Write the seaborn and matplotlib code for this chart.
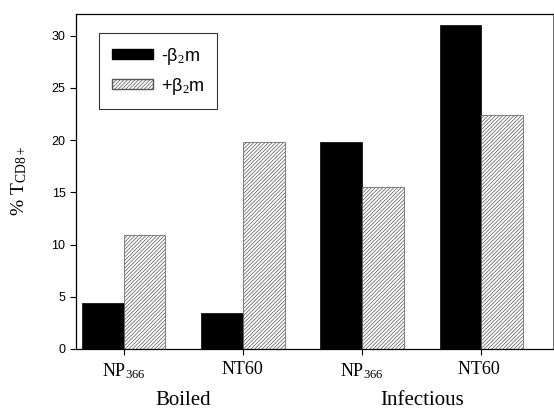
import pandas as pd
import matplotlib.pyplot as plt
import seaborn as sns
from matplotlib.patches import Patch

# data
antigens = ['NP$_{366}$', 'NT60', 'NP$_{366}$ ', 'NT60 ']
groups = ['Boiled', 'Infectious']
minus_b2m = [4.4, 3.4, 19.8, 31.0]
plus_b2m = [10.9, 19.8, 15.5, 22.4]

df = pd.DataFrame({
    'antigen': antigens * 2,
    'treatment': ['-b2m'] * 4 + ['+b2m'] * 4,
    'value': minus_b2m + plus_b2m,
})

sns.set_style('ticks')
plt.rcParams['hatch.linewidth'] = 0.5
plt.rcParams['hatch.color'] = '#333333'
plt.rcParams['mathtext.fontset'] = 'custom'
plt.rcParams['mathtext.rm'] = 'Liberation Serif'
plt.rcParams['mathtext.it'] = 'Liberation Serif'
plt.rcParams['text.color'] = 'black'
plt.rcParams['axes.labelcolor'] = 'black'
plt.rcParams['xtick.color'] = 'black'
plt.rcParams['ytick.color'] = 'black'

fig = plt.figure(figsize=(5.54, 4.09), dpi=100)
ax = fig.add_axes([0.137, 0.147, 0.861, 0.819])

sns.barplot(data=df, x='antigen', y='value', hue='treatment',
            palette=['black', 'white'], width=0.7, saturation=1,
            legend=False, ax=ax)

hatch = '/' * 9
for bar in ax.containers[0]:
    bar.set_edgecolor('black')
    bar.set_linewidth(0.5)
for bar in ax.containers[1]:
    bar.set_hatch(hatch)
    bar.set_edgecolor('#555555')
    bar.set_linewidth(0.5)

ax.set_xlim(-0.4, 3.6)
ax.set_ylim(0, 32.1)
ax.set_yticks([0, 5, 10, 15, 20, 25, 30])
ax.tick_params(axis='y', labelsize=9, length=4, width=0.8)
ax.tick_params(axis='x', length=4, width=0.8, pad=5)
for lab in ax.get_yticklabels():
    lab.set_family('Liberation Sans')
for lab in ax.get_xticklabels():
    lab.set_family('Liberation Serif')
    lab.set_fontsize(13)

for s in ax.spines.values():
    s.set_visible(True)
    s.set_linewidth(0.9)
    s.set_color('black')
ax.spines['right'].set_linewidth(0.6)
ax.spines['right'].set_color('#555555')

ax.set_xlabel('')
ax.set_ylabel('% T$_{\\mathregular{CD8+}}$', family='Liberation Serif', fontsize=14, labelpad=16)

# group labels under the tick labels
for i, g in enumerate(groups):
    ax.text(0.5 + 2 * i, -0.125, g, transform=ax.get_xaxis_transform(),
            ha='center', va='top', family='Liberation Serif', fontsize=15)

handles = [Patch(facecolor='black', edgecolor='black', label='-β$_2$m'),
           Patch(facecolor='white', edgecolor='#555555', hatch=hatch, label='+β$_2$m')]
leg = ax.legend(handles=handles, loc='upper left', bbox_to_anchor=(0.03, 0.97),
                frameon=True, fancybox=False, edgecolor='black',
                prop={'family': 'Liberation Sans', 'size': 13},
                handlelength=2.3, handleheight=0.5, handletextpad=0.4,
                borderpad=0.7, labelspacing=0.5)
leg.get_frame().set_linewidth(0.8)

fig.savefig('out.png', dpi=100)
